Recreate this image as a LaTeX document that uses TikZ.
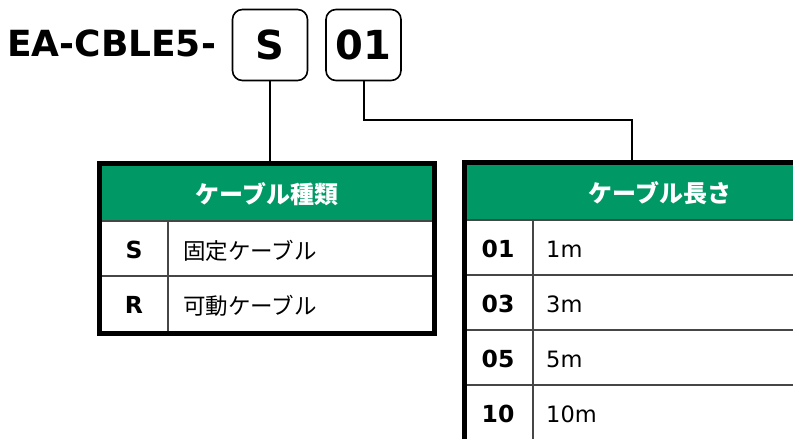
\documentclass[tikz,border=0pt]{standalone}
\usepackage{fontspec}
\setmainfont{DejaVu Sans}
\newfontfamily\jp{Noto Sans CJK JP}
\definecolor{hdrgreen}{RGB}{0,153,102}
\definecolor{gridgray}{RGB}{70,70,70}
\begin{document}
\begin{tikzpicture}[x=1pt,y=-1pt,
  codebox/.style={draw=black, line width=1.6pt, rounded corners=10pt, minimum width=75pt, minimum height=71pt, inner sep=0pt, font=\fontsize{40}{44}\selectfont\bfseries},
  frame/.style={draw=black, line width=5pt, inner sep=0pt},
  grid/.style={draw=gridgray, line width=1.1pt},
  conn/.style={draw=black, line width=2pt},
  hdr/.style={anchor=base, inner sep=0pt, text=white, font=\fontsize{24}{28}\selectfont\jp\bfseries},
  keytxt/.style={anchor=base, inner sep=0pt, font=\fontsize{23.5}{26}\selectfont\bfseries},
  valtxt/.style={anchor=base west, inner sep=0pt, font=\fontsize{22.5}{26}\selectfont\jp},
  numtxt/.style={anchor=base west, inner sep=0pt, font=\fontsize{22.5}{26}\selectfont}
]
\useasboundingbox (0,0) rectangle (793,439);

% title and code boxes
\node[anchor=base west, inner sep=0pt, font=\fontsize{36}{40}\selectfont\bfseries] (title) at (7,56) {EA-CBLE5-};
\node[codebox] (sbox) at (270,45) {\raisebox{-3pt}{S}};
\node[codebox] (obox) at (363.5,45) {\raisebox{-3pt}{01}};

% left table: fills and grid
\fill[white] (97,161) rectangle (437,336);
\fill[hdrgreen] (97,161) rectangle (437,221);
\draw[grid] (97,221) -- (437,221);
\draw[grid] (97,276) -- (437,276);
\draw[grid] (168,221) -- (168,336);
\node[frame, minimum width=335pt, minimum height=170pt] (ltab) at (267,248.5) {};
\node[hdr] (lh) at (267,203) {ケーブル種類};
\node[keytxt] (ls) at (134,258) {S};
\node[valtxt] (lsv) at (183,259) {固定ケーブル};
\node[keytxt] (lr) at (134,313) {R};
\node[valtxt] (lrv) at (183,314) {可動ケーブル};

% right table: fills and grid
\fill[white] (462,161) rectangle (860,445);
\fill[hdrgreen] (462,161) rectangle (860,220);
\draw[grid] (462,220) -- (860,220);
\draw[grid] (462,275) -- (860,275);
\draw[grid] (462,330) -- (860,330);
\draw[grid] (462,385) -- (860,385);
\draw[grid] (533,220) -- (533,445);
\node[frame, minimum width=393pt, minimum height=281pt] (rtab) at (661,303) {};
\node[hdr] (rh) at (660,202) {ケーブル長さ};
\node[keytxt] (r1) at (498,257) {01};
\node[numtxt] (r1v) at (546,257) {1m};
\node[keytxt] (r3) at (498,312) {03};
\node[numtxt] (r3v) at (546,312) {3m};
\node[keytxt] (r5) at (498,367) {05};
\node[numtxt] (r5v) at (546,367) {5m};
\node[keytxt] (r10) at (498,422) {10};
\node[numtxt] (r10v) at (546,422) {10m};

% connectors
\coordinate (bend) at (632,120);
\draw[conn] (sbox.south) -- (sbox.south |- ltab.north);
\draw[conn] (obox.south) |- (bend) -- (bend |- rtab.north);
\end{tikzpicture}
\end{document}
